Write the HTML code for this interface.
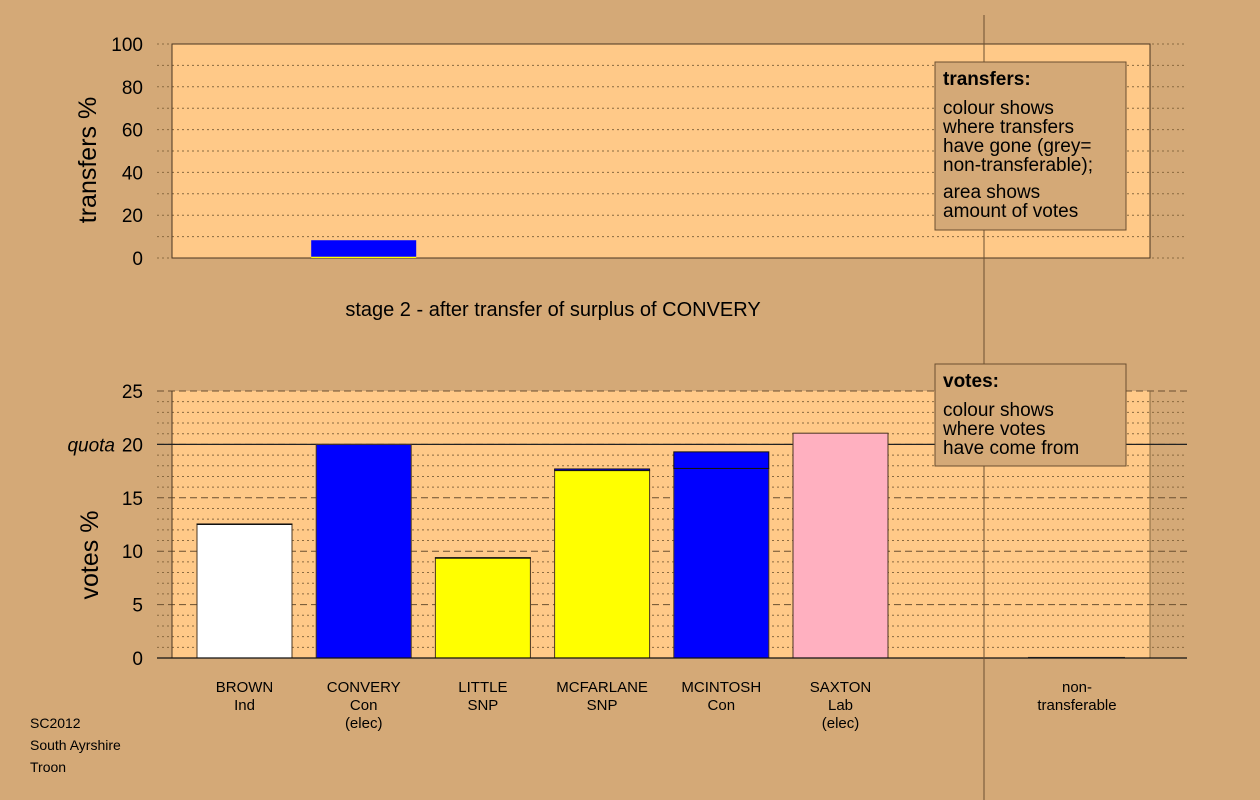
<!DOCTYPE html>
<html><head><meta charset="utf-8"><style>
html,body{margin:0;padding:0;background:#d4a977;}
svg{display:block;font-family:"Liberation Sans",sans-serif;}
</style></head><body>
<svg id="c" width="1260" height="800" viewBox="0 0 1260 800">
<rect x="0" y="0" width="1260" height="800" fill="#d4a977"/>
<g id="topPanel"></g>
<g id="botPanel"></g>
<line x1="984" y1="15" x2="984" y2="800" stroke="#6b5030" stroke-width="1"/>
<g>
<rect x="935" y="62" width="191" height="168" fill="#d4a977" stroke="#6b5030"/>
<text x="943" y="85" font-size="19" font-weight="bold">transfers:</text>
<text x="943" y="114" font-size="19">colour shows</text>
<text x="943" y="133" font-size="19">where transfers</text>
<text x="943" y="152" font-size="19">have gone (grey=</text>
<text x="943" y="171" font-size="19">non-transferable);</text>
<text x="943" y="198" font-size="19">area shows</text>
<text x="943" y="217" font-size="19">amount of votes</text>
</g>
<g>
<rect x="935" y="364" width="191" height="102" fill="#d4a977" stroke="#6b5030"/>
<text x="943" y="387" font-size="19" font-weight="bold">votes:</text>
<text x="943" y="416" font-size="19">colour shows</text>
<text x="943" y="435" font-size="19">where votes</text>
<text x="943" y="454" font-size="19">have come from</text>
</g>
<text x="553" y="316" font-size="20" text-anchor="middle">stage 2 - after transfer of surplus of CONVERY</text>
<text x="30" y="728" font-size="14">SC2012</text>
<text x="30" y="750" font-size="14">South Ayrshire</text>
<text x="30" y="772" font-size="14">Troon</text>
</svg>
<script>
const candidates = ["BROWN","CONVERY","LITTLE","MCFARLANE","MCINTOSH","SAXTON"];
const parties = ["Ind","Con","SNP","SNP","Con","Lab"];
const elected = ["","(elec)","","","","(elec)"];
const colours = ["#ffffff","#0000ff","#ffff00","#ffff00","#0000ff","#ffb0c0"];
const baseVotes = [12.5, 20.0, 9.35, 17.55, 17.75, 21.05];
const transferVotes = [0.05, 0.0, 0.05, 0.15, 1.55, 0.0];
const nonTransferable = 0.1;
const transferPct = [0.0, 0.6, 7.7, 0.0];
const transferColours = ["#999999","#ffff00","#0000ff","#ffffff"];
const quota = 20;
const topTicks = [0,20,40,60,80,100];
const botTicks = [0,5,10,15,20,25];

const NS="http://www.w3.org/2000/svg";
function mk(parent,tag,attrs){const e=document.createElementNS(NS,tag);for(const k in attrs)e.setAttribute(k,attrs[k]);parent.appendChild(e);return e;}
const X0=172,X1=1150,GX0=157,GX1=1187;
const slotW=119.2, barW=95, firstX=197;
function bx(i){return firstX+i*slotW;}
const ty=v=>258-v*2.14;
const vy=v=>658-v*(267/25);
const topG=document.getElementById('topPanel'), botG=document.getElementById('botPanel');

mk(topG,'rect',{x:X0,y:ty(100),width:X1-X0,height:ty(0)-ty(100),fill:'#ffc988'});
for(let v=0;v<=100;v+=10){
  const l=mk(topG,'line',{x1:GX0,x2:GX1,y1:ty(v),y2:ty(v),stroke:'#8a6a40','stroke-dasharray':'2,3','stroke-width':1});
  
  
}
mk(topG,'rect',{x:X0,y:ty(100),width:X1-X0,height:ty(0)-ty(100),fill:'none',stroke:'#4a3520'});
topTicks.forEach(t=>{
  const tx=mk(topG,'text',{x:143,y:ty(t)+7,'font-size':19,'text-anchor':'end'});tx.textContent=t;
  
  
});
{const tt=mk(topG,'text',{x:0,y:0,'font-size':25,'text-anchor':'middle',transform:'translate(96,160) rotate(-90)'});tt.textContent='transfers %';

}
{let acc=0;const tx0=bx(1)-5;
transferPct.forEach((p,i)=>{
  if(p>0){const r=mk(topG,'rect',{x:tx0,y:ty(acc+p),width:barW+10,height:ty(acc)-ty(acc+p),fill:transferColours[i]});
  
  }
  acc+=p;
});}

mk(botG,'rect',{x:X0,y:vy(25),width:X1-X0,height:vy(0)-vy(25),fill:'#ffc988'});
for(let v=1;v<=25;v++){
  const major=v%5===0;
  const l=mk(botG,'line',{x1:GX0,x2:GX1,y1:vy(v),y2:vy(v),stroke:major?'#6b5030':'#8a6a40','stroke-dasharray':major?'7,4':'2,3','stroke-width':1});
  
  
}
mk(botG,'line',{x1:X0,x2:X0,y1:vy(25),y2:vy(0),stroke:'#4a3520'});
mk(botG,'line',{x1:X1,x2:X1,y1:vy(25),y2:vy(0),stroke:'#8a6a40'});
{const q=mk(botG,'line',{x1:GX0,x2:GX1,y1:vy(quota),y2:vy(quota),stroke:'#222','stroke-width':1.3});

}
{const q=mk(botG,'text',{x:115,y:vy(quota)+7,'font-size':19,'font-style':'italic','text-anchor':'end'});q.textContent='quota';

}
botTicks.forEach(t=>{
  const tx=mk(botG,'text',{x:143,y:vy(t)+7,'font-size':19,'text-anchor':'end'});tx.textContent=t;
  
  
});
{const tt=mk(botG,'text',{x:0,y:0,'font-size':25,'text-anchor':'middle',transform:'translate(98,555) rotate(-90)'});tt.textContent='votes %';

}
candidates.forEach((c,i)=>{
  const x=bx(i);
  const r=mk(botG,'rect',{x:x,y:vy(baseVotes[i]),width:barW,height:vy(0)-vy(baseVotes[i]),fill:colours[i],stroke:'#4a3520','stroke-width':1});
  
  
  if(transferVotes[i]>0){
    const t=mk(botG,'rect',{x:x,y:vy(baseVotes[i]+transferVotes[i]),width:barW,height:vy(baseVotes[i])-vy(baseVotes[i]+transferVotes[i]),fill:'#0000ff',stroke:'#111','stroke-width':1});
    
    
  }
  [c,parties[i],elected[i]].forEach((s,k)=>{
    if(!s)return;
    const tx=mk(botG,'text',{x:x+barW/2,y:692+k*18,'font-size':15,'text-anchor':'middle'});tx.textContent=s;
    
    
  });
});
{const r=mk(botG,'rect',{x:1028,y:vy(nonTransferable),width:97,height:Math.max(1.5,vy(0)-vy(nonTransferable)),fill:'#333'});


[['non-',692],['transferable',710]].forEach(([s,y])=>{const tx=mk(botG,'text',{x:1077,y:y,'font-size':15,'text-anchor':'middle'});tx.textContent=s;

});}
mk(botG,'line',{x1:GX0,x2:GX1,y1:vy(0),y2:vy(0),stroke:'#111','stroke-width':1.3});
</script>
</body></html>
